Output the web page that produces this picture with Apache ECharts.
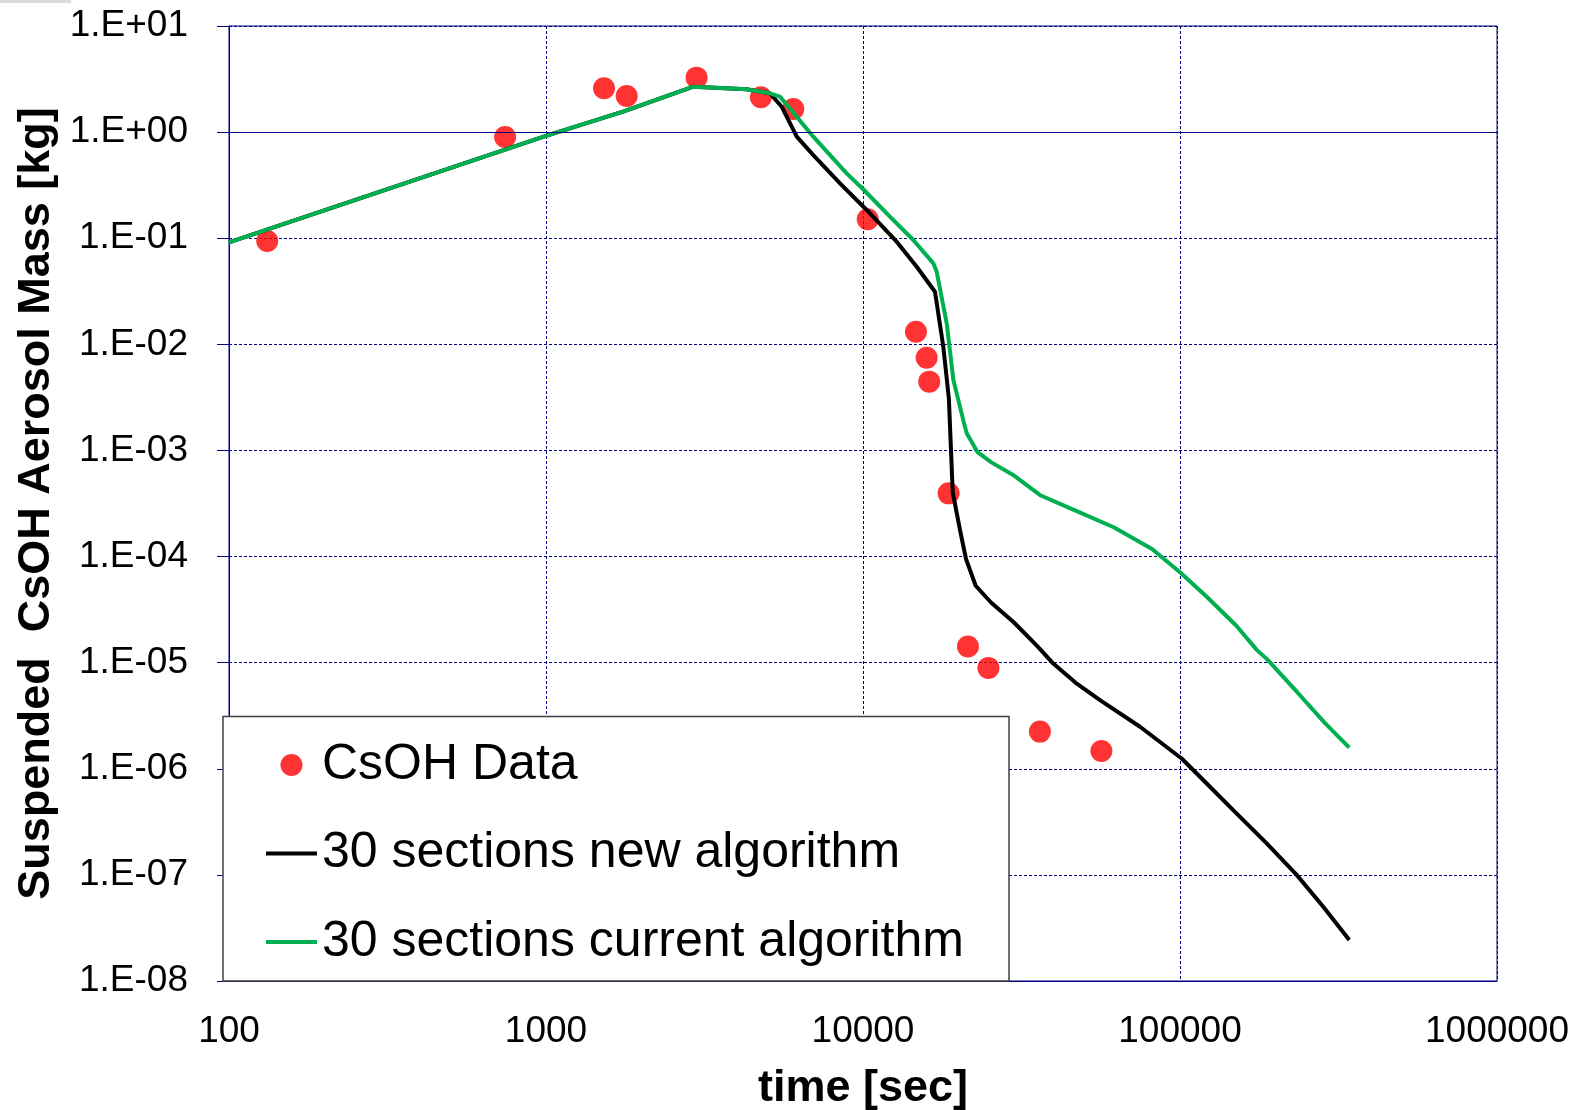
<!DOCTYPE html>
<html>
<head>
<meta charset="utf-8">
<script src="https://cdn.jsdelivr.net/npm/echarts@6/dist/echarts.min.js"></script>
<style>
html,body{margin:0;padding:0;background:#fff;}
#chart{width:1578px;height:1110px;}
</style>
</head>
<body>
<div id="chart"></div>
<script>
// ---- data ----
const xTickLabels = ['100', '1000', '10000', '100000', '1000000'];
const yTickLabels = ['1.E-08', '1.E-07', '1.E-06', '1.E-05', '1.E-04', '1.E-03', '1.E-02', '1.E-01', '1.E+00', '1.E+01'];

const dataTime = [132, 743, 1524, 1797, 2985, 4763, 6026, 10350, 14690, 15880, 16180, 18620, 21430, 24870, 36150, 56500];
const dataMass = [0.094, 0.90, 2.59, 2.19, 3.26, 2.13, 1.65, 0.151, 0.01315, 0.00748, 0.00445, 3.94e-4, 1.42e-5, 8.93e-6, 2.24e-6, 1.47e-6];

const newTime = [100, 1000, 1750, 2917, 4295, 5089, 5540, 6180, 6970, 8461, 10270, 12770, 14770, 16870, 17920, 18660, 19190, 20230, 21140, 22670, 25340, 29950, 35400, 39580, 46770, 55930, 74800, 101200, 115600, 147200, 187700, 233400, 283100, 342000];
const newMass = [0.0914, 0.92, 1.56, 2.68, 2.53, 2.32, 1.735, 0.905, 0.608, 0.329, 0.1845, 0.0927, 0.0539, 0.0313, 0.0095, 0.00308, 4.03e-4, 1.78e-4, 9.47e-5, 5.31e-5, 3.69e-5, 2.39e-5, 1.44e-5, 1.0e-5, 6.49e-6, 4.44e-6, 2.49e-6, 1.25e-6, 8.41e-7, 4.08e-7, 1.98e-7, 1.0e-7, 5.0e-8, 2.43e-8];

const curTime = [100, 1000, 1750, 2917, 4295, 5089, 5470, 6970, 8880, 10000, 12160, 14410, 16670, 17080, 18370, 19280, 20720, 21240, 22990, 25340, 29950, 36390, 45480, 61800, 81600, 100000, 120500, 150600, 174600, 188100, 235100, 285700, 342000];
const curMass = [0.0914, 0.92, 1.56, 2.68, 2.53, 2.32, 2.16, 0.905, 0.408, 0.291, 0.1596, 0.0962, 0.058, 0.0483, 0.01578, 4.61e-3, 1.93e-3, 1.45e-3, 9.64e-4, 7.76e-4, 5.80e-4, 3.76e-4, 2.81e-4, 1.89e-4, 1.18e-4, 7.10e-5, 4.27e-5, 2.23e-5, 1.32e-5, 1.08e-5, 5.21e-6, 2.72e-6, 1.58e-6];

const seriesNames = ['CsOH Data', '30 sections new algorithm', '30 sections current algorithm'];
const xTitle = 'time [sec]';
const yTitle = 'Suspended  CsOH Aerosol Mass [kg]';

// ---- chart ----
const zip = (a, b) => a.map((v, i) => [v, b[i]]);
const FONT = 'Liberation Sans, Arial, sans-serif';
const NAVY = '#000080';
const LINE_ICON = 'path://M0,0H52V4H0Z';

const chart = echarts.init(document.getElementById('chart'));
chart.setOption({
  animation: false,
  backgroundColor: '#fff',
  grid: { left: 229, top: 26, right: 81, bottom: 129, show: true, borderColor: NAVY, borderWidth: 1, backgroundColor: 'transparent', containLabel: false, outerBoundsMode: 'none' },
  xAxis: {
    type: 'log', logBase: 10, min: 100, max: 1000000,
    name: xTitle, nameLocation: 'middle', nameGap: 85,
    nameTextStyle: { fontSize: 45, fontWeight: 'bold', color: '#000', fontFamily: FONT },
    axisLine: { lineStyle: { color: NAVY, width: 1 } },
    axisTick: { show: false },
    axisLabel: {
      fontSize: 37, color: '#000', fontFamily: FONT, margin: 32,
      formatter: v => xTickLabels[Math.round(Math.log10(v)) - 2]
    },
    splitLine: { show: true, lineStyle: { color: NAVY, type: [3, 2], width: 1 } },
    minorTick: { show: false }
  },
  yAxis: {
    type: 'log', logBase: 10, min: 1e-8, max: 10,
    name: yTitle, nameLocation: 'middle', nameGap: 192, nameRotate: 90,
    nameTextStyle: { fontSize: 45, fontWeight: 'bold', color: '#000', fontFamily: FONT, verticalAlign: 'middle' },
    axisLine: { show: true, lineStyle: { color: NAVY, width: 1 } },
    axisTick: { show: true, inside: false, length: 12, lineStyle: { color: NAVY, width: 1 } },
    axisLabel: {
      fontSize: 37, color: '#000', fontFamily: FONT, margin: 41, padding: [10, 0, 0, 0],
      formatter: v => yTickLabels[Math.round(Math.log10(v)) + 8]
    },
    splitLine: { show: true, lineStyle: { color: NAVY, type: [3, 2], width: 1 } }
  },
  legend: {
    orient: 'vertical', left: 266, top: 740, padding: 0,
    itemWidth: 51, itemHeight: 22, itemGap: 38.5,
    symbolKeepAspect: true,
    textStyle: { fontSize: 50, color: '#000', fontFamily: FONT },
    data: [
      { name: seriesNames[0], icon: 'circle' },
      { name: seriesNames[1], icon: LINE_ICON },
      { name: seriesNames[2], icon: LINE_ICON }
    ]
  },
  graphic: [
    { type: 'rect', z: 3, shape: { x: 223, y: 716.5, width: 786, height: 264.5 },
      style: { fill: '#fff', stroke: '#404040', lineWidth: 1.5 } },
    { type: 'rect', z: 3, shape: { x: 0, y: 0, width: 71, height: 3 }, style: { fill: '#d9d9d9' } }
  ],
  series: [
    {
      name: seriesNames[1], type: 'line', data: zip(newTime, newMass),
      symbol: 'none', smooth: false,
      lineStyle: { color: '#000', width: 4 }, itemStyle: { color: '#000' },
      markLine: {
        silent: true, symbol: 'none', label: { show: false },
        lineStyle: { color: NAVY, type: 'solid', width: 1 },
        data: [{ yAxis: 1 }]
      }
    },
    {
      name: seriesNames[2], type: 'line', data: zip(curTime, curMass),
      symbol: 'none', smooth: false,
      lineStyle: { color: '#00B050', width: 4 }, itemStyle: { color: '#00B050' }
    },
    {
      name: seriesNames[0], type: 'scatter', data: zip(dataTime, dataMass),
      symbol: 'circle', symbolSize: 22,
      itemStyle: { color: '#FF0000' }
    }
  ]
});
</script>
</body>
</html>
